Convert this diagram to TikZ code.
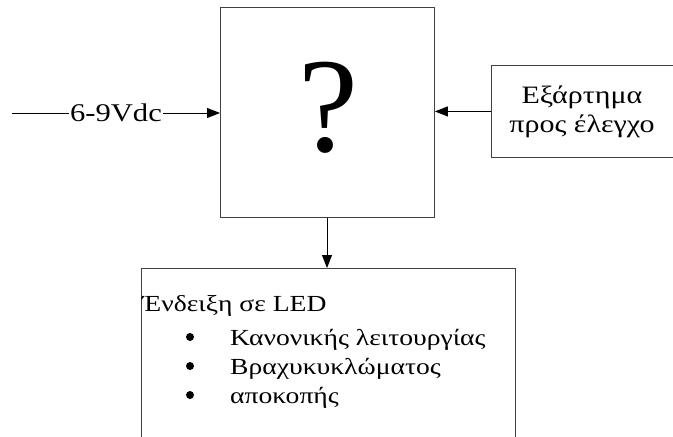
\documentclass[tikz,border=0pt]{standalone}
\usepackage{fontspec}
\setmainfont{Liberation Serif}[FakeStretch=1.2]
\newfontfamily\qfont{Liberation Serif}
\usetikzlibrary{arrows.meta}
\begin{document}
\begin{tikzpicture}[x=1pt,y=-1pt,
  box/.style={draw=black!75, line width=0.9pt, inner sep=0pt},
  arr/.style={draw=black, line width=0.8pt, -{Triangle[length=13pt,width=10pt]}},
  txt/.style={inner sep=0pt, font=\fontsize{23}{28}\selectfont},
  rtxt/.style={inner sep=0pt, font=\fontsize{25}{28}\selectfont}]
\useasboundingbox (0,0) rectangle (673,437);
\clip (0,0) rectangle (673,437);
% main box
\node[box, minimum width=214, minimum height=210, anchor=north west] (main) at (220,7) {};
\node[inner sep=0pt, anchor=base, font=\qfont\fontsize{135}{140}\selectfont] (q) at (328,151) {?};
% right box
\node[box, minimum width=182, minimum height=92, anchor=north west] (part) at (491,65) {};
\node[rtxt, anchor=base] (p1) at (582,103) {Εξάρτημα};
\node[rtxt, anchor=base] (p2) at (582,132) {προς έλεγχο};
% bottom box (open at the bottom)
\node[box, minimum width=374, minimum height=200, anchor=north west] (led) at (141,268) {};
\node[txt, anchor=base west] (l0) at (142,311) {Ένδειξη σε LED};
\node[txt, anchor=base west] (l1) at (230,345) {Κανονικής λειτουργίας};
\node[txt, anchor=base west] (l2) at (230,374) {Βραχυκυκλώματος};
\node[txt, anchor=base west] (l3) at (230,403) {αποκοπής};
\foreach \n/\y in {1/337,2/366,3/395}
  \fill (190,\y) circle (4pt) coordinate (b\n);
% input
\coordinate (in) at (12,113);
\node[anchor=base, fill=white, inner xsep=1pt, inner ysep=0pt, font=\fontsize{25.5}{28}\selectfont] (v) at (116,121) {6-9Vdc};
\draw[line width=0.8pt] (in) -- (v.west |- in);
\draw[arr] (v.east |- in) -- (main.west |- in);
% arrows
\draw[arr] (part.west) -- (main.east |- part.west);
\draw[arr] (main.south -| 327,0) -- (led.north -| 327,0);
\end{tikzpicture}
\end{document}
